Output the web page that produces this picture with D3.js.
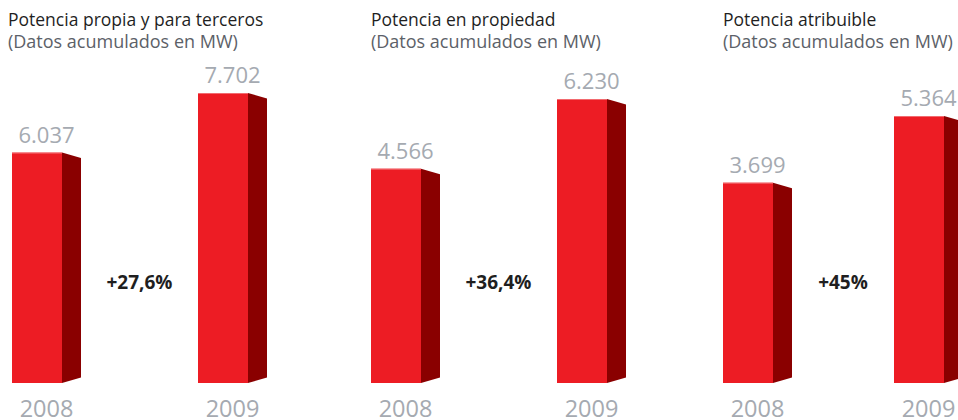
<!DOCTYPE html>
<meta charset="utf-8">
<style>
body { margin: 0; background: #fff; }
svg text { font-family: "Open Sans", "Noto Sans", sans-serif; }
.title { fill: #1f1f1f; font-size: 17.5px; }
.subtitle { fill: #5c6168; font-size: 18px; }
.value { fill: #a5aab1; font-size: 22px; text-anchor: middle; }
.year { fill: #a5aab1; font-size: 23.5px; text-anchor: middle; }
.change { fill: #1f1f1f; font-size: 19px; font-weight: bold; text-anchor: middle; }
</style>
<svg width="958" height="420"></svg>
<script src="https://d3js.org/d3.v7.min.js"></script>
<script>
// chart data
var years = ["2008", "2009"];
var titles = ["Potencia propia y para terceros", "Potencia en propiedad", "Potencia atribuible"];
var subtitle = "(Datos acumulados en MW)";
var values = [[6037, 7702], [4566, 6230], [3699, 5364]];
var valueLabels = [["6.037", "7.702"], ["4.566", "6.230"], ["3.699", "5.364"]];
var changes = ["+27,6%", "+36,4%", "+45%"];

// layout of each panel
var baseline = 383;
var barW = 50, sideW = 19, sideDrop = 5.5;
var panelLeft = [12, 371, 723];
var panelStep = [186, 186, 171];
var titleX = [8, 371, 723];
var scaleFloor = [-400, -550, -1300];   // each panel was drawn with its own scale
var maxHeight = [290, 284, 267];

var svg = d3.select("svg");

titles.forEach(function(t, p) {
  var g = svg.append("g");

  g.append("text").attr("class", "title").attr("x", titleX[p]).attr("y", 26).text(t);
  g.append("text").attr("class", "subtitle").attr("x", titleX[p]).attr("y", 48).text(subtitle);

  var x = d3.scaleBand()
      .domain(years)
      .range([panelLeft[p], panelLeft[p] + panelStep[p] + barW])
      .paddingInner(1 - barW / panelStep[p])
      .paddingOuter(0);

  // floor of the scale sits on the baseline
  var y = d3.scaleLinear()
      .domain([scaleFloor[p], d3.max(values[p])])
      .range([baseline, baseline - maxHeight[p]]);

  var data = years.map(function(yr, i) {
    return { year: yr, value: values[p][i], label: valueLabels[p][i] };
  });

  var bars = g.selectAll(".bar").data(data).enter().append("g").attr("class", "bar");

  bars.append("rect")
      .attr("x", function(d) { return x(d.year); })
      .attr("y", function(d) { return y(d.value); })
      .attr("width", x.bandwidth())
      .attr("height", function(d) { return baseline - y(d.value); })
      .attr("fill", "#ed1c24");

  // thin light edge on top of the front face
  bars.append("rect")
      .attr("x", function(d) { return x(d.year); })
      .attr("y", function(d) { return y(d.value); })
      .attr("width", x.bandwidth())
      .attr("height", 1)
      .attr("fill", "#f26a6f");

  bars.append("path")
      .attr("fill", "#8a0000")
      .attr("d", function(d) {
        var x0 = x(d.year) + x.bandwidth(), x1 = x0 + sideW, top = y(d.value);
        return "M" + x0 + "," + top + "L" + x1 + "," + (top + sideDrop) +
               "L" + x1 + "," + (baseline - sideDrop) + "L" + x0 + "," + baseline + "Z";
      });

  bars.append("text")
      .attr("class", "value")
      .attr("x", function(d) { return x(d.year) + (barW + sideW) / 2; })
      .attr("y", function(d) { return y(d.value) - 10; })
      .text(function(d) { return d.label; });

  bars.append("text")
      .attr("class", "year")
      .attr("x", function(d) { return x(d.year) + (barW + sideW) / 2; })
      .attr("y", 417)
      .text(function(d) { return d.year; });

  var midX = (x(years[0]) + barW + sideW + x(years[1])) / 2;
  g.append("text").attr("class", "change").attr("x", midX).attr("y", 289).text(changes[p]);
});
</script>
